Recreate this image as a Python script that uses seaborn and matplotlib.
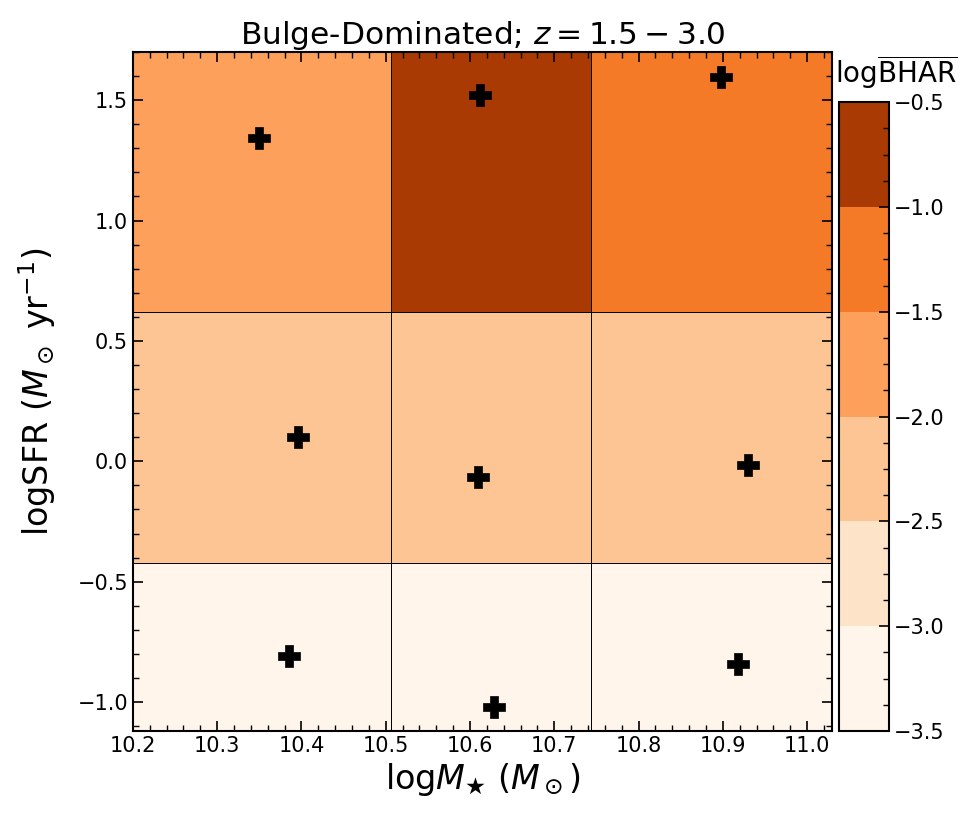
import numpy as np
import matplotlib
matplotlib.use('Agg')
import matplotlib.pyplot as plt
import seaborn as sns
from matplotlib.colors import ListedColormap, BoundaryNorm
from matplotlib.ticker import AutoMinorLocator

# bin edges of the grid
mass_edges = [10.2, 10.506, 10.743, 11.03]
sfr_edges = [-1.12, -0.423, 0.62, 1.70]

# mean log BHAR per cell (rows: low -> high SFR)
bhar_low = [-3.25, -3.25, -3.25]
bhar_mid = [-2.25, -2.25, -2.25]
bhar_high = [-1.75, -0.75, -1.25]

# median positions of the sources in each cell
med_mass = [10.385, 10.628, 10.918, 10.396, 10.61, 10.93, 10.35, 10.612, 10.898]
med_sfr = [-0.81, -1.02, -0.843, 0.10, -0.066, -0.016, 1.342, 1.52, 1.596]

levels = [-3.5, -3.0, -2.5, -2.0, -1.5, -1.0, -0.5]
colors = ['#fff5eb', '#fde3c8', '#fdc593', '#fda05b', '#f57a28', '#aa3a03']

sns.set_style('ticks')
plt.rcParams['font.family'] = ['DejaVu Sans']

fig = plt.figure(figsize=(9.77, 8.25), dpi=100)
ax = fig.add_axes([0.136, 0.114, 0.716, 0.823])
cax = fig.add_axes([0.859, 0.114, 0.051, 0.762])

cmap = ListedColormap(colors)
norm = BoundaryNorm(levels, cmap.N)
grid = np.array([bhar_low, bhar_mid, bhar_high])
mesh = ax.pcolormesh(mass_edges, sfr_edges, grid, cmap=cmap, norm=norm,
                     edgecolor='black', linewidth=0.5)

sns.scatterplot(x=med_mass, y=med_sfr, marker='P', s=230, color='black',
                edgecolor='black', linewidth=0.5, ax=ax, legend=False, zorder=5)

ax.set_axisbelow(False)
ax.set_xlim(10.2, 11.03)
ax.set_ylim(-1.12, 1.70)
ax.set_xticks(np.arange(10.2, 11.01, 0.1))
ax.set_yticks([-1.0, -0.5, 0.0, 0.5, 1.0, 1.5])
ax.xaxis.set_minor_locator(AutoMinorLocator(5))
ax.yaxis.set_minor_locator(AutoMinorLocator(5))
ax.tick_params(which='both', direction='in', top=True, right=True,
               labelsize=15, color='black', labelcolor='black')
ax.tick_params(which='major', length=7, width=1.2)
ax.tick_params(which='minor', length=4, width=1)
for sp in ax.spines.values():
    sp.set_linewidth(1.5)
    sp.set_color('black')

ax.set_xlabel(r'log$M_\bigstar$ ($M_\odot$)', fontsize=24, color='black')
ax.set_ylabel(r'logSFR ($M_\odot$ yr$^{-1}$)', fontsize=24, color='black',
              labelpad=14)
ax.set_title(r'Bulge-Dominated; $z = 1.5 - 3.0$', fontsize=22.5, color='black')

cb = fig.colorbar(mesh, cax=cax, ticks=levels)
cax.set_axisbelow(False)
cax.yaxis.set_minor_locator(AutoMinorLocator(4))
cax.tick_params(which='both', direction='in', labelsize=15, color='black',
                labelcolor='black')
cax.tick_params(which='major', length=7, width=1.2)
cax.tick_params(which='minor', length=4, width=1)
cb.outline.set_linewidth(1.5)
cb.outline.set_edgecolor('black')
cax.text(-0.08, 1.018, r'log$\overline{\rm BHAR}$', fontsize=20,
         transform=cax.transAxes, ha='left', va='bottom', color='black')

fig.savefig('out.png', dpi=100)
